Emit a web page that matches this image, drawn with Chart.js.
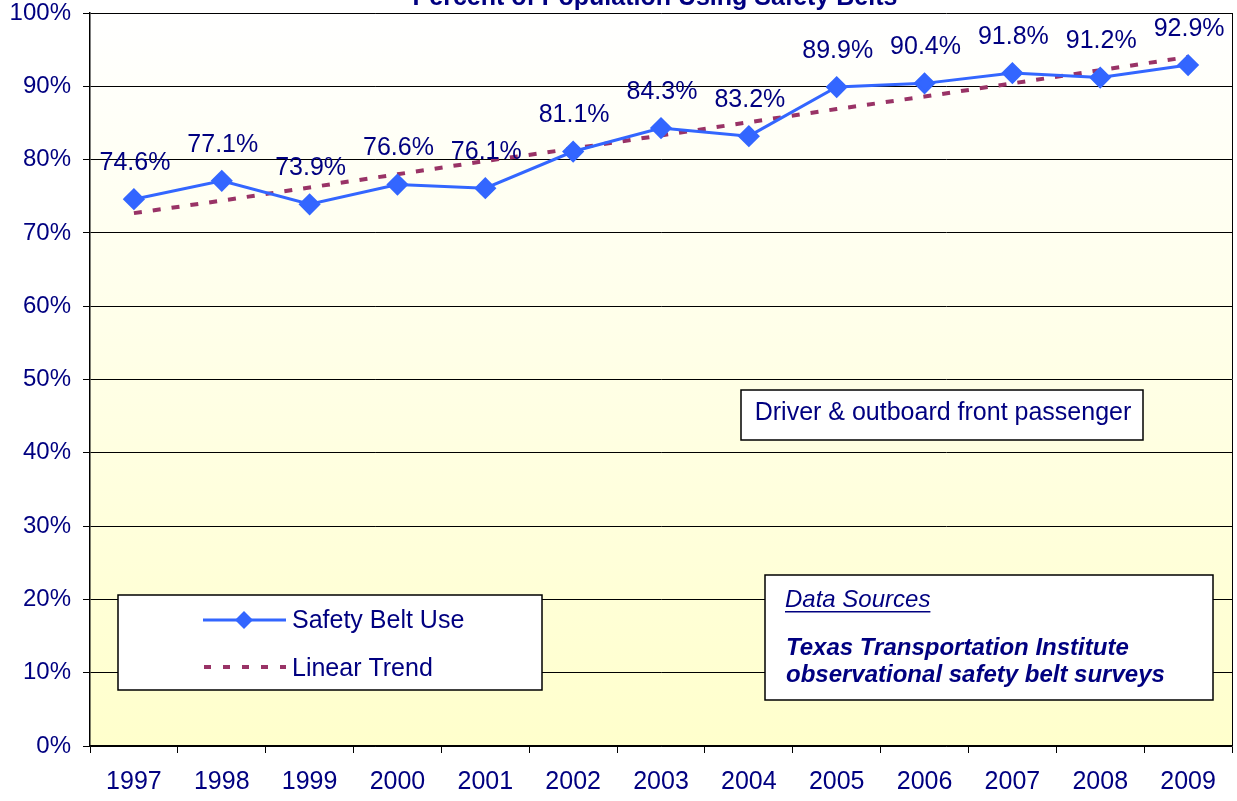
<!DOCTYPE html>
<html>
<head>
<meta charset="utf-8">
<script src="https://cdn.jsdelivr.net/npm/chart.js@4"></script>
<style>
  html, body { margin: 0; padding: 0; background: #fff; }
  #wrap { width: 1237px; height: 801px; }
</style>
</head>
<body>
<div id="wrap"><canvas id="chart" width="1237" height="801"></canvas></div>
<script>
const years = ["1997", "1998", "1999", "2000", "2001", "2002", "2003", "2004", "2005", "2006", "2007", "2008", "2009"];
const beltUse = [74.6, 77.1, 73.9, 76.6, 76.1, 81.1, 84.3, 83.2, 89.9, 90.4, 91.8, 91.2, 92.9];
// trend line
const trend = [72.7, 74.4, 76.2, 78.0, 79.8, 81.5, 83.3, 85.1, 86.9, 88.6, 90.4, 92.2, 94.0];
const yTicks = [0, 10, 20, 30, 40, 50, 60, 70, 80, 90, 100];

const NAVY = "#000080";
const FONT = "'Liberation Sans', Arial, sans-serif";

const plotBg = {
  id: "plotBg",
  beforeDraw(chart) {
    const { ctx, chartArea: a } = chart;
    const g = ctx.createLinearGradient(0, a.top, 0, a.bottom);
    g.addColorStop(0, "#ffffff");
    g.addColorStop(1, "#ffffcc");
    ctx.save();
    ctx.fillStyle = g;
    ctx.fillRect(a.left, a.top, a.right - a.left, a.bottom - a.top);
    ctx.restore();
  },
  afterDraw(chart) {
    const { ctx, chartArea: a } = chart;
    ctx.save();
    ctx.strokeStyle = "#000";
    ctx.lineWidth = 1;
    ctx.beginPath();
    ctx.moveTo(a.right + 0.5, a.top);
    ctx.lineTo(a.right + 0.5, a.bottom);
    ctx.stroke();
    // cut-off title
    ctx.font = "bold 25px " + FONT;
    ctx.fillStyle = NAVY;
    ctx.textAlign = "center";
    ctx.textBaseline = "alphabetic";
    ctx.fillText("Percent of Population Using Safety Belts", 655, 5);
    ctx.restore();
  }
};

const pointLabels = {
  id: "pointLabels",
  afterDatasetsDraw(chart) {
    const { ctx } = chart;
    const meta = chart.getDatasetMeta(0);
    ctx.save();
    ctx.font = "25px " + FONT;
    ctx.fillStyle = NAVY;
    ctx.textAlign = "center";
    ctx.textBaseline = "middle";
    meta.data.forEach((pt, i) => {
      ctx.fillText(beltUse[i].toFixed(1) + "%", pt.x + 1, pt.y - 36);
    });
    ctx.restore();
  }
};

function box(ctx, x, y, w, h) {
  ctx.fillStyle = "#fff";
  ctx.fillRect(x, y, w, h);
  ctx.strokeStyle = "#000";
  ctx.lineWidth = 1.5;
  ctx.strokeRect(x, y, w, h);
}

const boxes = {
  id: "boxes",
  afterDraw(chart) {
    const { ctx } = chart;
    ctx.save();
    ctx.textBaseline = "middle";

    // note box
    box(ctx, 741, 390, 402, 50);
    ctx.font = "25px " + FONT;
    ctx.fillStyle = NAVY;
    ctx.textAlign = "center";
    ctx.fillText("Driver & outboard front passenger", 943, 413);

    // legend box
    box(ctx, 118, 595, 424, 95);
    ctx.strokeStyle = "#3366ff";
    ctx.lineWidth = 3;
    ctx.beginPath();
    ctx.moveTo(203, 620);
    ctx.lineTo(286, 620);
    ctx.stroke();
    ctx.fillStyle = "#3366ff";
    ctx.beginPath();
    ctx.moveTo(244, 611);
    ctx.lineTo(253, 620);
    ctx.lineTo(244, 629);
    ctx.lineTo(235, 620);
    ctx.closePath();
    ctx.fill();
    ctx.strokeStyle = "#993366";
    ctx.lineWidth = 4;
    ctx.setLineDash([7, 12]);
    ctx.beginPath();
    ctx.moveTo(204, 667);
    ctx.lineTo(286, 667);
    ctx.stroke();
    ctx.setLineDash([]);
    ctx.fillStyle = NAVY;
    ctx.textAlign = "left";
    ctx.font = "25px " + FONT;
    ctx.fillText("Safety Belt Use", 292, 621);
    ctx.fillText("Linear Trend", 292, 669);

    // data sources box
    box(ctx, 765, 575, 448, 125);
    ctx.fillStyle = NAVY;
    ctx.font = "italic 24px " + FONT;
    ctx.fillText("Data Sources", 785, 600);
    const w = ctx.measureText("Data Sources").width;
    ctx.fillRect(785, 611, w, 1.5);
    ctx.font = "italic bold 24px " + FONT;
    ctx.fillText("Texas Transportation Institute", 786, 648);
    ctx.fillText("observational safety belt surveys", 786, 675);
    ctx.restore();
  }
};

new Chart(document.getElementById("chart"), {
  type: "line",
  data: {
    labels: years,
    datasets: [
      {
        label: "Safety Belt Use",
        data: beltUse,
        borderColor: "#3366ff",
        backgroundColor: "#3366ff",
        borderWidth: 3,
        pointStyle: "rectRot",
        pointRadius: 9,
        pointHoverRadius: 9,
        tension: 0,
        order: 1
      },
      {
        label: "Linear Trend",
        data: trend,
        borderColor: "#993366",
        borderWidth: 4,
        borderDash: [8, 11],
        pointRadius: 0,
        tension: 0,
        order: 2
      }
    ]
  },
  options: {
    responsive: false,
    animation: false,
    layout: { autoPadding: false, padding: { top: 13, right: 5, left: 0, bottom: 0 } },
    plugins: {
      legend: { display: false },
      title: { display: false },
      tooltip: { enabled: false }
    },
    scales: {
      x: {
        offset: true,
        grid: { display: true, drawOnChartArea: false, offset: true, tickLength: 7, color: "#000" },
        border: { color: "#000", width: 1.5 },
        ticks: { color: NAVY, font: { family: FONT, size: 25 }, padding: 14, maxRotation: 0 },
        afterFit(s) { s.height = 55; s.paddingLeft = 0; s.paddingRight = 0; }
      },
      y: {
        min: 0,
        max: 100,
        afterBuildTicks(s) { s.ticks = yTicks.map(v => ({ value: v })); },
        grid: { color: "#000", lineWidth: 1, tickLength: 7 },
        border: { color: "#000", width: 1.5 },
        ticks: {
          color: NAVY,
          font: { family: FONT, size: 24 },
          padding: 12,
          callback: v => v + "%"
        },
        afterFit(s) { s.width = 90; s.paddingTop = 0; s.paddingBottom = 0; }
      }
    }
  },
  plugins: [plotBg, pointLabels, boxes]
});
</script>
</body>
</html>
